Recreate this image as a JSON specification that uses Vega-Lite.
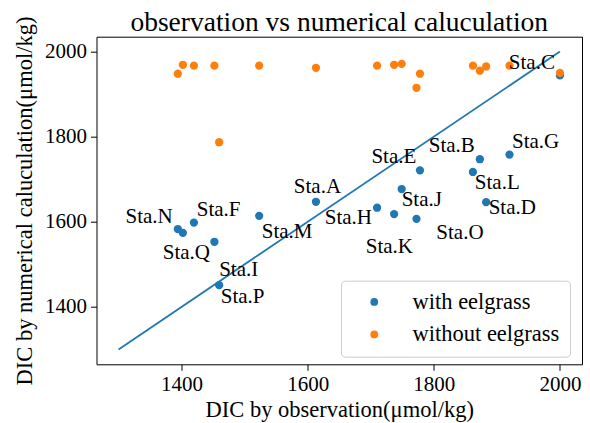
{
  "$schema": "https://vega.github.io/schema/vega-lite/v6.json",
  "width": 485.5,
  "height": 327.6,
  "autosize": {"type": "none"},
  "padding": {"left": 96.5, "top": 36.7, "right": 8, "bottom": 58.7},
  "background": "white",
  "title": {
    "text": "observation vs numerical caluculation",
    "fontSize": 27.5,
    "font": "'Liberation Serif', 'Times New Roman', 'DejaVu Serif', serif",
    "fontWeight": "normal",
    "color": "black",
    "anchor": "middle",
    "offset": 3,
    "dy": 23
  },
  "datasets": {
    "diag": [
      {"x": 1300, "y": 1300},
      {"x": 2000, "y": 2000}
    ],
    "stations": [
      {"station": "Sta.A", "obs": 1613, "with eelgrass": 1647, "without eelgrass": 1962, "lx": 1578, "ly": 1668},
      {"station": "Sta.B", "obs": 1873, "with eelgrass": 1747, "without eelgrass": 1955, "lx": 1792, "ly": 1764},
      {"station": "Sta.C", "obs": 2000, "with eelgrass": 1944, "without eelgrass": 1950, "lx": 1919, "ly": 1960},
      {"station": "Sta.D", "obs": 1883, "with eelgrass": 1646, "without eelgrass": 1965, "lx": 1887, "ly": 1618},
      {"station": "Sta.E", "obs": 1778, "with eelgrass": 1721, "without eelgrass": 1948, "lx": 1701, "ly": 1738},
      {"station": "Sta.F", "obs": 1419.5, "with eelgrass": 1598, "without eelgrass": 1967, "lx": 1424, "ly": 1614},
      {"station": "Sta.G", "obs": 1920, "with eelgrass": 1758, "without eelgrass": 1967, "lx": 1924, "ly": 1774},
      {"station": "Sta.H", "obs": 1710, "with eelgrass": 1633, "without eelgrass": 1967, "lx": 1627, "ly": 1595},
      {"station": "Sta.I", "obs": 1452, "with eelgrass": 1553, "without eelgrass": 1967, "lx": 1459.5, "ly": 1472},
      {"station": "Sta.J", "obs": 1749, "with eelgrass": 1677, "without eelgrass": 1971, "lx": 1749, "ly": 1636},
      {"station": "Sta.K", "obs": 1737, "with eelgrass": 1618, "without eelgrass": 1969, "lx": 1692, "ly": 1527},
      {"station": "Sta.L", "obs": 1862, "with eelgrass": 1717, "without eelgrass": 1967, "lx": 1865, "ly": 1676},
      {"station": "Sta.M", "obs": 1523, "with eelgrass": 1614, "without eelgrass": 1967, "lx": 1527, "ly": 1562},
      {"station": "Sta.N", "obs": 1394, "with eelgrass": 1583, "without eelgrass": 1948, "lx": 1311, "ly": 1597},
      {"station": "Sta.O", "obs": 1772.5, "with eelgrass": 1607, "without eelgrass": 1915, "lx": 1804, "ly": 1560},
      {"station": "Sta.P", "obs": 1459.5, "with eelgrass": 1451, "without eelgrass": 1787, "lx": 1462, "ly": 1410},
      {"station": "Sta.Q", "obs": 1402, "with eelgrass": 1574, "without eelgrass": 1969, "lx": 1370, "ly": 1513}
    ]
  },
  "layer": [
    {
      "data": {"name": "diag"},
      "mark": {"type": "line", "color": "#1f77b4", "strokeWidth": 1.8},
      "encoding": {
        "x": {"field": "x", "type": "quantitative", "title": "DIC by observation(μmol/kg)",
              "scale": {"domain": [1265, 2035], "nice": false, "zero": false},
              "axis": {"values": [1400, 1600, 1800, 2000], "labelPadding": 3}},
        "y": {"field": "y", "type": "quantitative", "title": "DIC by numerical caluculation(μmol/kg)",
              "scale": {"domain": [1265, 2035], "nice": false, "zero": false},
              "axis": {"values": [1400, 1600, 1800, 2000], "labelPadding": 4, "titlePadding": 8}}
      }
    },
    {
      "data": {"name": "stations"},
      "transform": [{"fold": ["with eelgrass", "without eelgrass"], "as": ["series", "calc"]}],
      "mark": {"type": "point", "filled": true, "size": 68, "opacity": 1},
      "encoding": {
        "x": {"field": "obs", "type": "quantitative", "title": "DIC by observation(μmol/kg)"},
        "y": {"field": "calc", "type": "quantitative", "title": "DIC by numerical caluculation(μmol/kg)"},
        "color": {
          "field": "series", "type": "nominal",
          "scale": {"domain": ["with eelgrass", "without eelgrass"], "range": ["#1f77b4", "#ff7f0e"]},
          "legend": {
            "title": null,
            "orient": "none",
            "legendX": 244.5,
            "legendY": 244,
            "padding": 10,
            "symbolOffset": 12,
            "labelOffset": 27,
            "rowPadding": 9.5,
            "symbolSize": 60,
            "symbolType": "circle",
            "symbolOpacity": 1,
            "labelFont": "'Liberation Serif', 'Times New Roman', 'DejaVu Serif', serif",
            "labelFontSize": 22.5,
            "labelColor": "black",
            "strokeColor": "#cccccc",
            "fillColor": "rgba(255,255,255,0.8)",
            "cornerRadius": 4
          }
        }
      }
    },
    {
      "data": {"name": "stations"},
      "mark": {"type": "text", "align": "left", "baseline": "alphabetic", "fontSize": 21, "font": "'Liberation Serif', 'Times New Roman', 'DejaVu Serif', serif", "color": "black"},
      "encoding": {
        "x": {"field": "lx", "type": "quantitative", "title": "DIC by observation(μmol/kg)"},
        "y": {"field": "ly", "type": "quantitative", "title": "DIC by numerical caluculation(μmol/kg)"},
        "text": {"field": "station"}
      }
    }
  ],
  "config": {
    "font": "'Liberation Serif', 'Times New Roman', 'DejaVu Serif', serif",
    "view": {"stroke": "black", "strokeWidth": 1},
    "axis": {
      "domain": false,
      "grid": false,
      "ticks": true,
      "tickColor": "black",
      "tickSize": 6,
      "tickWidth": 1,
      "labelFont": "'Liberation Serif', 'Times New Roman', 'DejaVu Serif', serif",
      "labelFontSize": 21,
      "labelColor": "black",
      "titleFont": "'Liberation Serif', 'Times New Roman', 'DejaVu Serif', serif",
      "titleFontSize": 22.5,
      "titleFontWeight": "normal",
      "titleColor": "black",
      "format": "d"
    }
  }
}
